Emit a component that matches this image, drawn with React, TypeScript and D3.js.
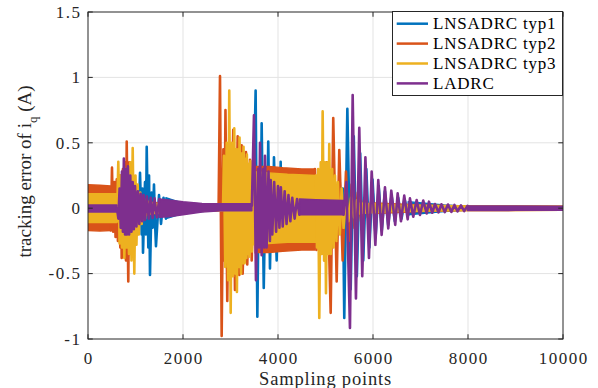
import React from 'react';
import * as d3 from 'd3';

const W = 598;
const H = 388;
const plotLeft = 88;
const plotRight = 563;
const plotTop = 12;
const plotBottom = 339;

const xTicks = [0, 2000, 4000, 6000, 8000, 10000];
const yTicks = [-1, -0.5, 0, 0.5, 1, 1.5];
const yTickLabels = ['-1', '-0.5', '0', '0.5', '1', '1.5'];
const seriesNames = ['LNSADRC typ1', 'LNSADRC typ2', 'LNSADRC typ3', 'LADRC'];
const seriesColors = ['#0072BD', '#D95319', '#EDB120', '#7E2F8E'];

type Band = ([number, number, number] | null)[];
type Pts = ([number, number] | null)[];

// dense-noise envelopes: [sample, upper, lower]
const typ1Band: Band = [
  [0, 0.05, -0.05], [630, 0.05, -0.05], null,
  [1640, 0.08, -0.08], [1750, 0.068, -0.068], [1900, 0.05, -0.05], [2100, 0.035, -0.035], [2760, 0.02, -0.015], [3480, 0.02, -0.015], null,
  [4077, 0.3, -0.3], [4400, 0.25, -0.27], [4780, 0.22, -0.22], null,
  [6740, 0.05, -0.05], [7500, 0.025, -0.025], [8000, 0.015, -0.015], [10000, 0.012, -0.012],
];
// oscillation extremes: [sample, value]
const typ1Peaks: Pts = [
  [630, 0], [690, 0.08], [750, -0.1], [810, 0.15], [870, -0.2], [930, 0.2], [990, -0.24], [1040, 0.14], [1065, -0.12],
  [1095, 0.27], [1130, -0.2], [1145, 0.15], [1158, -0.34], [1200, 0.2], [1220, -0.2], [1236, 0.47], [1270, -0.3],
  [1285, 0.25], [1305, -0.51], [1340, 0.12], [1360, -0.15], [1389, 0.18], [1410, -0.1], [1431, -0.29], [1495, 0.1],
  [1537, -0.12], [1590, 0.08], [1640, -0.08], null,
  [3480, 0], [3529, 0.9], [3565, -0.83], [3600, 0.3], [3630, -0.3], [3656, 0.65], [3700, -0.61], [3740, 0.25], [3765, -0.25],
  [3795, 0.51], [3831, -0.46], [3870, 0.25], [3895, -0.25], [3915, 0.39], [3972, -0.4], [4010, 0.28], [4035, -0.3],
  [4056, 0.355], [4077, -0.3], null,
  [4780, 0.2], [4830, -0.2], [4900, 0.2], [4960, -0.2], [5030, 0.2], [5100, -0.2], [5170, 0.2], [5240, -0.2], [5300, 0.2],
  [5340, -0.2], [5365, 0.15], [5395, -0.84], [5460, 0.76], [5530, -0.62], [5595, 0.55], [5660, -0.52], [5730, 0.42],
  [5795, -0.4], [5860, 0.3], [5925, -0.3], [5990, 0.22], [6055, -0.22], [6120, 0.17], [6185, -0.17], [6250, 0.13],
  [6320, -0.13], [6390, 0.1], [6460, -0.1], [6530, 0.08], [6600, -0.08], [6670, 0.06], [6740, -0.05],
];

const typ2Band: Band = [
  [0, 0.18, -0.17], [250, 0.175, -0.175], [480, 0.17, -0.17], null,
  [1280, 0.045, -0.045], [2000, 0.03, -0.03], [2750, 0.02, -0.02], null,
  [3530, 0.32, -0.34], [3800, 0.32, -0.34], [4100, 0.31, -0.33], [4500, 0.3, -0.32], [4778, 0.3, -0.32], null,
  [6030, 0.04, -0.04], [7000, 0.025, -0.025], [8000, 0.018, -0.018], [10000, 0.016, -0.016],
];
const typ2Peaks: Pts = [
  [480, -0.17], [505, 0.31], [530, -0.18], [555, 0.2], [580, -0.22], [605, 0.22], [630, -0.25], [655, 0.25], [680, -0.3],
  [695, 0.25], [709, -0.38], [735, 0.3], [760, -0.35], [785, 0.35], [800, -0.4], [815, 0.51], [848, -0.56], [870, 0.35],
  [890, -0.35], [910, 0.3], [930, -0.35], [955, 0.22], [975, -0.25], [1000, 0.18], [1025, -0.2], [1050, 0.12],
  [1075, -0.12], [1100, 0.1], [1140, -0.08], [1180, 0.07], [1230, -0.05], [1280, 0.045], null,
  [2750, 0.02], [2779, 1.01], [2814, -0.977], [2850, 0.45], [2870, -0.4], [2894, 0.75], [2932, -0.71], [2970, 0.5],
  [3000, -0.5], [3058, 0.6], [3094, -0.625], [3151, 0.55], [3185, -0.51], [3235, 0.48], [3256, -0.5], [3326, 0.43],
  [3353, -0.43], [3410, 0.37], [3446, -0.4], [3500, 0.33], [3530, -0.34], null,
  [4778, 0.3], [4810, -0.32], [4850, 0.28], [4884, -0.35], [4930, 0.3], [4980, -0.4], [5030, 0.35], [5109, -0.8],
  [5163, 0.69], [5235, -0.56], [5290, 0.445], [5361, -0.4], [5431, 0.28], [5490, -0.25], [5550, 0.18], [5610, -0.15],
  [5680, 0.12], [5750, -0.1], [5820, 0.08], [5890, -0.07], [5960, 0.05], [6030, -0.04],
];

const typ3Band: Band = [
  [0, 0.11, -0.11], [610, 0.11, -0.11], null,
  [1305, 0.04, -0.04], [2000, 0.025, -0.025], [2842, 0.02, -0.02], null,
  [3480, 0.28, -0.28], [3800, 0.27, -0.27], [4200, 0.26, -0.26], [4800, 0.25, -0.26], null,
  [5720, 0.04, -0.04], [6500, 0.025, -0.025], [8000, 0.018, -0.018], [10000, 0.016, -0.016],
];
const typ3Peaks: Pts = [
  [610, -0.1], [638, 0.355], [665, -0.27], [690, 0.25], [715, -0.3], [737, 0.28], [765, -0.38], [790, 0.3], [815, -0.3],
  [840, 0.3], [863, -0.35], [890, 0.35], [915, -0.4], [941, 0.46], [975, -0.5], [1000, 0.25], [1020, -0.28],
  [1045, 0.18], [1070, -0.2], [1100, 0.12], [1130, -0.12], [1160, 0.08], [1200, -0.08], [1242, 0.06], [1305, -0.04], null,
  [2842, 0], [2863, 0.4], [2890, -0.45], [2920, 0.5], [2950, -0.55], [2974, 0.9], [3004, -0.8], [3030, 0.5],
  [3055, -0.52], [3079, 0.61], [3105, -0.5], [3120, 0.45], [3135, -0.64], [3160, 0.45], [3175, -0.45], [3190, 0.54],
  [3221, -0.5], [3245, 0.42], [3260, -0.42], [3274, 0.47], [3300, -0.42], [3320, 0.38], [3335, -0.38], [3345, 0.41],
  [3370, -0.35], [3390, 0.34], [3400, -0.37], [3420, 0.36], [3450, -0.33], [3480, 0.28], null,
  [4800, 0.25], [4821, -0.3], [4845, 0.3], [4869, -0.84], [4900, 0.35], [4920, -0.35], [4940, 0.74], [4970, -0.4],
  [4990, 0.35], [5010, -0.65], [5040, 0.35], [5060, -0.35], [5079, 0.49], [5110, -0.35], [5140, 0.3], [5170, -0.3],
  [5200, 0.25], [5230, -0.25], [5260, 0.2], [5300, -0.2], [5340, 0.15], [5380, -0.15], [5430, 0.12], [5480, -0.1],
  [5540, 0.08], [5600, -0.07], [5660, 0.06], [5720, -0.04],
];

const ladrcBand: Band = [
  [0, 0.025, -0.03], [610, 0.025, -0.03], null,
  [1500, 0.07, -0.07], [1700, 0.063, -0.065], [2000, 0.05, -0.05], [2400, 0.037, -0.03], [2800, 0.035, -0.02], [3450, 0.035, -0.02], null,
  [4450, 0.07, -0.05], [4800, 0.065, -0.05], [5380, 0.06, -0.05], null,
  [7989, 0.018, -0.018], [9000, 0.017, -0.017], [10000, 0.016, -0.017],
];
const ladrcPeaks: Pts = [
  [610, 0], [640, -0.08], [665, 0.15], [690, -0.15], [715, 0.28], [735, -0.18], [755, 0.38], [780, -0.2], [800, 0.3],
  [820, -0.2], [840, 0.32], [865, -0.2], [890, 0.25], [915, -0.18], [940, 0.2], [965, -0.16], [990, 0.17], [1020, -0.14],
  [1050, 0.13], [1080, -0.12], [1110, 0.11], [1140, -0.1], [1170, 0.1], [1200, -0.09], [1240, 0.09], [1280, -0.08],
  [1320, 0.08], [1360, -0.075], [1400, 0.075], [1450, -0.07], [1500, 0.07], null,
  [3450, 0.02], [3494, 0.71], [3536, -0.55], [3580, 0.3], [3600, -0.3], [3621, 0.5], [3656, -0.36], [3690, 0.3],
  [3710, -0.3], [3726, 0.4], [3760, -0.3], [3800, 0.28], [3830, -0.25], [3846, 0.215], [3880, -0.2], [3920, 0.2],
  [3960, -0.18], [4000, 0.17], [4030, -0.15], [4060, 0.16], [4100, -0.14], [4140, 0.13], [4180, -0.12], [4220, 0.1],
  [4260, -0.1], [4300, 0.08], [4350, -0.08], [4400, 0.07], [4450, -0.05], null,
  [5380, -0.05], [5440, 0.2], [5515, -0.916], [5572, 0.866], [5641, -0.69], [5711, 0.615], [5774, -0.52], [5840, 0.39],
  [5915, -0.38], [5972, 0.28], [6050, -0.28], [6111, 0.215], [6182, -0.205], [6252, 0.16], [6321, -0.154],
  [6385, 0.134], [6468, -0.128], [6519, 0.114], [6589, -0.1], [6658, 0.096], [6730, -0.085], [6778, 0.075],
  [6848, -0.065], [6919, 0.063], [6989, -0.052], [7058, 0.058], [7130, -0.04], [7178, 0.05], [7248, -0.035],
  [7304, 0.032], [7380, -0.032], [7441, 0.03], [7510, -0.03], [7578, 0.028], [7650, -0.028], [7715, 0.025],
  [7780, -0.025], [7852, 0.022], [7920, -0.022], [7989, 0.018],
];

const bands = [typ1Band, typ2Band, typ3Band, ladrcBand];
const peaks = [typ1Peaks, typ2Peaks, typ3Peaks, ladrcPeaks];

const FONT = '"Liberation Serif", "Times New Roman", Times, serif';
const AXIS = '#262626';
const GRID = '#e3e3e3';

export default function App() {
  const x = d3.scaleLinear().domain([0, 10000]).range([plotLeft, plotRight]);
  const y = d3.scaleLinear().domain([-1, 1.5]).range([plotBottom, plotTop]);

  const area = d3
    .area<[number, number, number] | null>()
    .defined((d) => d !== null)
    .x((d) => x(d![0]))
    .y0((d) => y(d![2]))
    .y1((d) => y(d![1]));
  const line = d3
    .line<[number, number] | null>()
    .defined((d) => d !== null)
    .x((d) => x(d![0]))
    .y((d) => y(d![1]));

  const tickLen = 4.75;

  return (
    <svg width={W} height={H} style={{ display: 'block', position: 'absolute', left: 0, top: 0, background: '#fff' }}>
      <rect x={0} y={0} width={W} height={H} fill="#fff" />
      <defs>
        <clipPath id="plotClip">
          <rect x={plotLeft} y={plotTop} width={plotRight - plotLeft} height={plotBottom - plotTop} />
        </clipPath>
      </defs>
      {/* grid */}
      <g>
        {xTicks.slice(1, -1).map((t) => (
          <line key={'gx' + t} x1={x(t)} x2={x(t)} y1={plotTop} y2={plotBottom} stroke={GRID} strokeWidth={1} />
        ))}
        {yTicks.slice(1, -1).map((t) => (
          <line key={'gy' + t} x1={plotLeft} x2={plotRight} y1={y(t)} y2={y(t)} stroke={GRID} strokeWidth={1} />
        ))}
      </g>
      {/* data */}
      <g clipPath="url(#plotClip)">
        {seriesColors.map((c, i) => (
          <g key={'s' + i}>
            <path d={area(bands[i]) || ''} fill={c} stroke={c} strokeWidth={1.4} strokeLinejoin="round" />
            <path d={line(peaks[i]) || ''} fill="none" stroke={c} strokeWidth={2.6} strokeLinejoin="round" strokeLinecap="round" />
          </g>
        ))}
      </g>
      {/* box */}
      <rect x={plotLeft} y={plotTop} width={plotRight - plotLeft} height={plotBottom - plotTop} fill="none" stroke={AXIS} strokeWidth={1} />
      {/* ticks */}
      <g stroke={AXIS} strokeWidth={1}>
        {xTicks.map((t) => (
          <g key={'tx' + t}>
            <line x1={x(t)} x2={x(t)} y1={plotBottom} y2={plotBottom - tickLen} />
            <line x1={x(t)} x2={x(t)} y1={plotTop} y2={plotTop + tickLen} />
          </g>
        ))}
        {yTicks.map((t) => (
          <g key={'ty' + t}>
            <line x1={plotLeft} x2={plotLeft + tickLen} y1={y(t)} y2={y(t)} />
            <line x1={plotRight} x2={plotRight - tickLen} y1={y(t)} y2={y(t)} />
          </g>
        ))}
      </g>
      {/* tick labels */}
      <g fontFamily={FONT} fontSize={17} fill={AXIS} letterSpacing={1.5}>
        {xTicks.map((t) => (
          <text key={'lx' + t} x={x(t) + 0.75} y={363.8} textAnchor="middle">
            {String(t)}
          </text>
        ))}
        {yTicks.map((t, i) => (
          <text key={'ly' + t} x={81.5} y={y(t) + 5.8} textAnchor="end">
            {yTickLabels[i]}
          </text>
        ))}
      </g>
      {/* axis labels */}
      <text x={(plotLeft + plotRight) / 2} y={384.5} textAnchor="middle" fontFamily={FONT} fontSize={18.5} fill={AXIS} letterSpacing={0.8}>
        Sampling points
      </text>
      <text transform={`translate(30.7,${(plotTop + plotBottom) / 2 - 4}) rotate(-90)`} textAnchor="middle" fontFamily={FONT} fontSize={19} fill={AXIS}>
        tracking error of i<tspan fontSize={13} dy={6}>q</tspan>
        <tspan dy={-6}> (A)</tspan>
      </text>
      {/* legend */}
      <g>
        <rect x={392.5} y={11.5} width={170} height={84} fill="#fff" stroke={AXIS} strokeWidth={1} />
        {seriesNames.map((n, i) => (
          <g key={'lg' + i}>
            <line x1={396.7} x2={428} y1={23.7 + i * 19.9} y2={23.7 + i * 19.9} stroke={seriesColors[i]} strokeWidth={2.5} />
            <text x={433} y={29.4 + i * 19.9} fontFamily={FONT} fontSize={17} fill="#000" letterSpacing={0.8}>
              {n}
            </text>
          </g>
        ))}
      </g>
    </svg>
  );
}
